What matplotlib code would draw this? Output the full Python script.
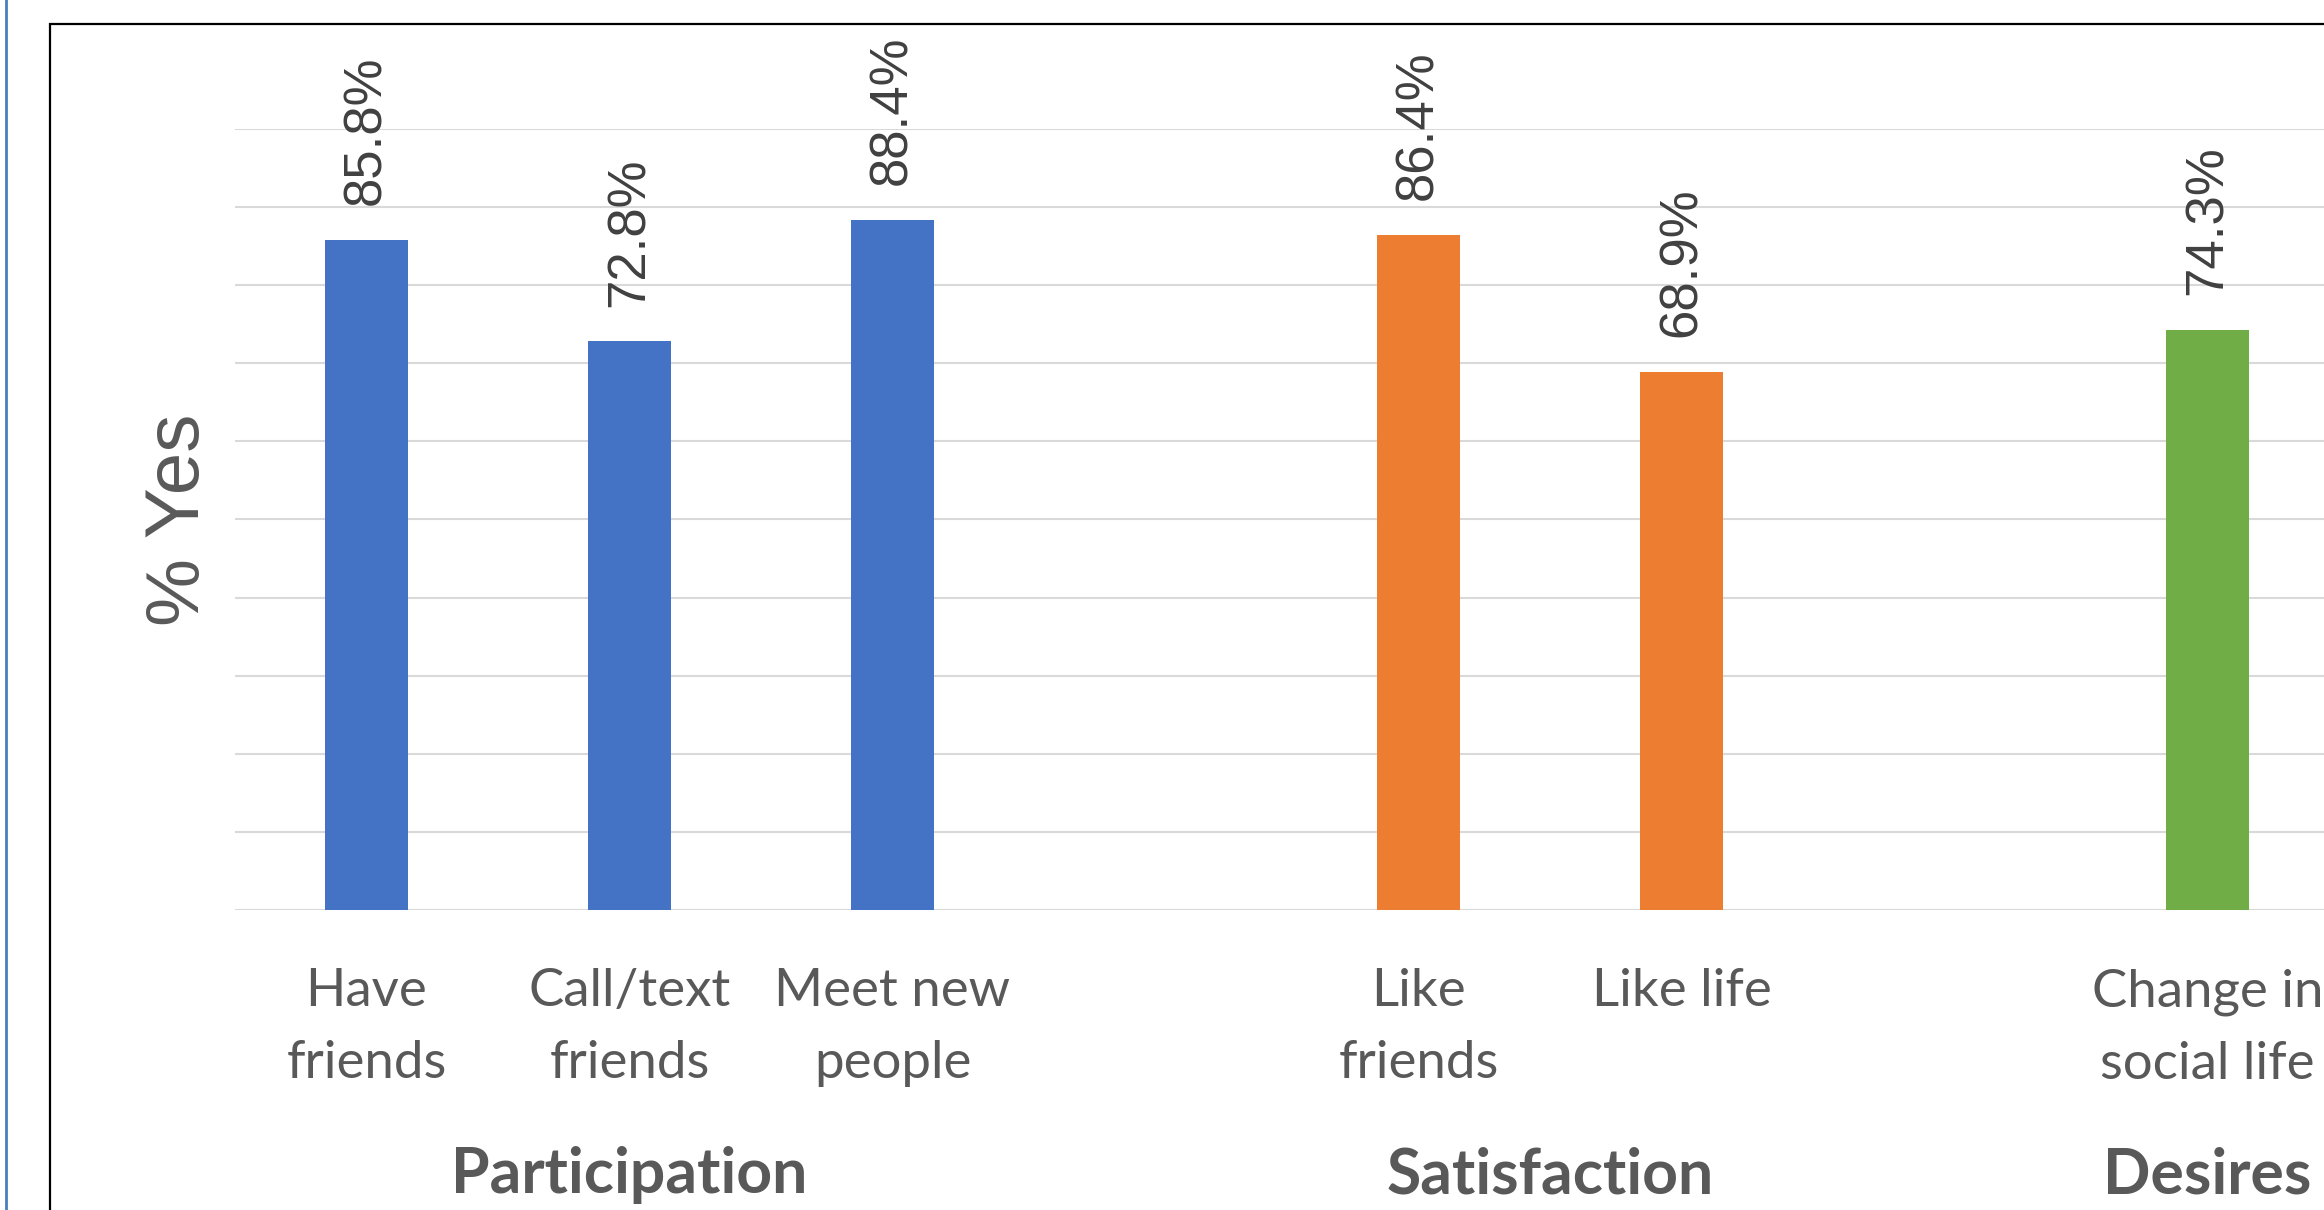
import matplotlib.pyplot as plt
import matplotlib.transforms as mtransforms
from matplotlib.patches import Rectangle
from matplotlib.lines import Line2D

# data
labels = ["Have\nfriends", "Call/text\nfriends", "Meet new\npeople",
          "Like\nfriends", "Like life", "Change in\nsocial life"]
slots = [0, 1, 2, 4, 5, 7]          # empty slots separate the groups
values = [85.8, 72.8, 88.4, 86.4, 68.9, 74.3]
bar_colors = ["#4472C4", "#4472C4", "#4472C4", "#ED7D31", "#ED7D31", "#70AD47"]
groups = ["Participation", "Satisfaction", "Desires"]
group_centers = [1, 4.5, 7]

W, H = 2324, 1210
fig = plt.figure(figsize=(W / 100, H / 100), dpi=100)

# axes in pixel terms: left edge 235, baseline 910, top gridline 129, slot width 263
left, base, top, slot_w = 235, 910, 129, 263
n_slots = 9
ax = fig.add_axes([left / W, (H - base) / H, n_slots * slot_w / W, (base - top) / H])
ax.set_xlim(-0.5, n_slots - 0.5)
ax.set_ylim(0, 100)

ax.bar(slots, values, width=0.315, color=bar_colors, zorder=3)

ax.set_yticks(range(0, 101, 10))
ax.yaxis.grid(True, color="#D9D9D9", linewidth=1.5, zorder=0)
ax.tick_params(left=False, bottom=False, labelleft=False, labelbottom=False)
for s in ax.spines.values():
    s.set_visible(False)

for x, v in zip(slots, values):
    ax.annotate(f"{v}%", (x, v), xytext=(0, 25), textcoords="offset points",
                rotation=90, ha="center", va="bottom", fontsize=38,
                family="Liberation Sans", color="#404040")

trans = mtransforms.blended_transform_factory(ax.transData, ax.transAxes)
for x, lab in zip(slots, labels):
    ax.text(x, -(968 - base) / (base - top), lab, transform=trans, ha="center",
            va="top", fontsize=38, family="Lato", color="#595959",
            linespacing=1.66)

for x, g in zip(group_centers, groups):
    ax.text(x, -(1193 - base) / (base - top), g, transform=trans, ha="center",
            va="baseline", fontsize=45, family="Lato", fontweight="bold",
            color="#595959")

ax.set_ylabel("% Yes", fontsize=55, family="Liberation Sans", color="#595959")
ax.yaxis.set_label_coords((215 - left) / (n_slots * slot_w), 0.5)

# chart border (runs off the right and bottom edge) and slide edge line
fig.patches.append(Rectangle((50 / W, -0.2), 2.0, (H - 24) / H + 0.2,
                             transform=fig.transFigure, fill=False,
                             edgecolor="black", linewidth=1.6))
fig.lines.append(Line2D([6 / W, 6 / W], [0, 1], transform=fig.transFigure,
                        color="#4A7EBB", linewidth=2))

fig.savefig("out.png", dpi=100)
